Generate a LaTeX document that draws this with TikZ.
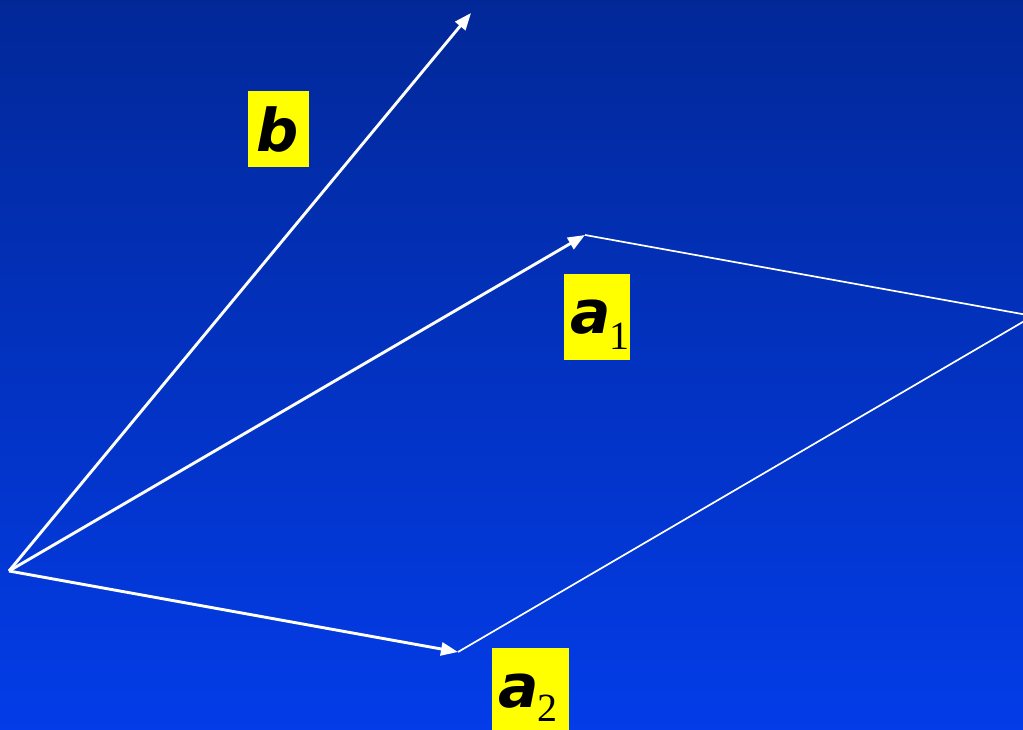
\documentclass[tikz,border=0pt]{standalone}
\usepackage{fontspec}
\setmainfont{Liberation Serif}
\newfontfamily\vecfont{DejaVu Sans Bold Oblique}
\usetikzlibrary{arrows.meta}
\definecolor{bgtop}{RGB}{2,40,152}
\definecolor{bgbot}{RGB}{3,60,232}
\definecolor{lbl}{RGB}{255,255,0}
\tikzset{
  vec/.style={draw=white, line width=2.9pt, -{Triangle[length=17pt,width=13pt]}},
  edge/.style={draw=white, line width=1.7pt},
  lab/.style={fill=lbl, inner sep=0pt, anchor=north west},
  labtxt/.style={inner sep=0pt, anchor=base west, text=black},
}
\begin{document}
\begin{tikzpicture}[x=1pt,y=-1pt]
\useasboundingbox (0,0) rectangle (1023,730);
\shade[top color=bgtop, bottom color=bgbot] (0,0) rectangle (1023,730);
\coordinate (O) at (9,571);
\coordinate (B) at (471,13);
\coordinate (A1) at (585,235);
\coordinate (A2) at (458,652);
\coordinate (C) at (1033,316);
\begin{scope}
\clip (0,0) rectangle (1023,730);
\draw[edge] (A1) -- (C);
\draw[edge] (A2) -- (C);
\end{scope}
\draw[vec] (O) -- (B);
\draw[vec] (O) -- (A1);
\draw[vec] (O) -- (A2);
% labels
\node[lab, minimum width=61pt, minimum height=76pt] (bbox) at (248,91) {};
\node[labtxt] (btxt) at (256,152) {\fontsize{59}{59}\vecfont b};
\node[lab, minimum width=66pt, minimum height=86pt] (a1box) at (564,274) {};
\node[labtxt] (a1txt) at (570,333) {\fontsize{60}{60}\vecfont a\fontsize{40}{40}\selectfont\kern-1pt\raisebox{-17pt}{\rmfamily 1}};
\node[lab, minimum width=77pt, minimum height=90pt] (a2box) at (492,648) {};
\node[labtxt] (a2txt) at (498,707) {\fontsize{60}{60}\vecfont a\fontsize{40}{40}\selectfont\kern-1pt\raisebox{-14pt}{\rmfamily 2}};
\end{tikzpicture}
\end{document}
